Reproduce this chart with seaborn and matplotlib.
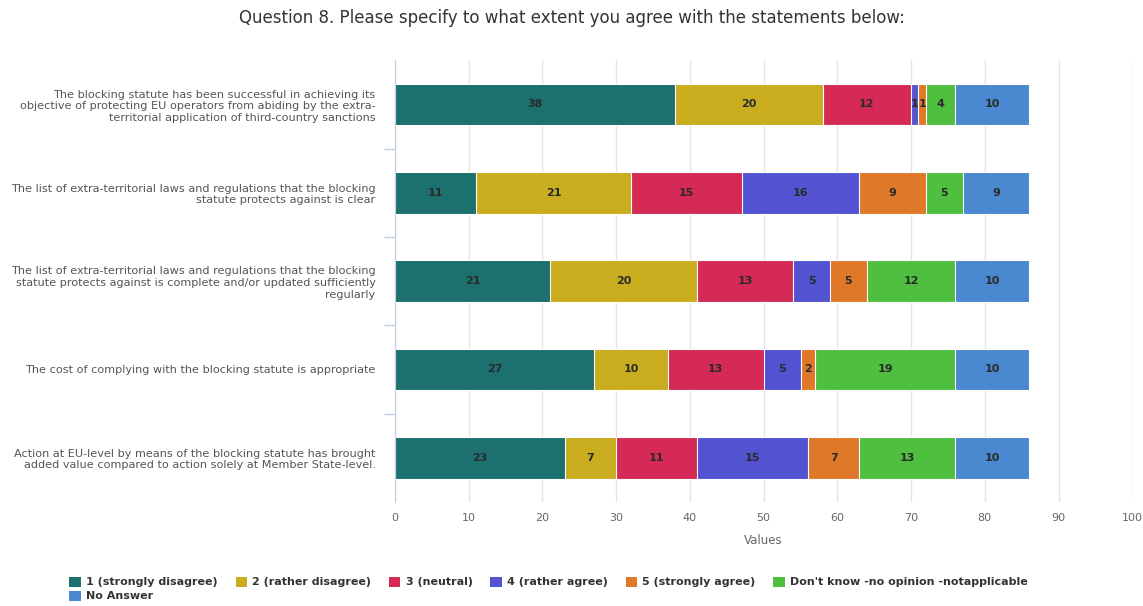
import matplotlib.pyplot as plt
import seaborn as sns
import numpy as np
import pandas as pd

# Statements (y categories)
statements = [
    "The blocking statute has been successful in achieving its\nobjective of protecting EU operators from abiding by the extra-\nterritorial application of third-country sanctions",
    "The list of extra-territorial laws and regulations that the blocking\nstatute protects against is clear",
    "The list of extra-territorial laws and regulations that the blocking\nstatute protects against is complete and/or updated sufficiently\nregularly",
    "The cost of complying with the blocking statute is appropriate",
    "Action at EU-level by means of the blocking statute has brought\nadded value compared to action solely at Member State-level.",
]

answers = ["1 (strongly disagree)", "2 (rather disagree)", "3 (neutral)", "4 (rather agree)",
           "5 (strongly agree)", "Don't know -no opinion -notapplicable", "No Answer"]

strongly_disagree = [38, 11, 21, 27, 23]
rather_disagree = [20, 21, 20, 10, 7]
neutral = [12, 15, 13, 13, 11]
rather_agree = [1, 16, 5, 5, 15]
strongly_agree = [1, 9, 5, 2, 7]
dont_know = [4, 5, 12, 19, 13]
no_answer = [10, 9, 10, 10, 10]

colors = ["#1c706e", "#c9ad1f", "#d42a55", "#5353d2", "#e0782a", "#4fbf40", "#4a88cf"]

series = [strongly_disagree, rather_disagree, neutral, rather_agree,
          strongly_agree, dont_know, no_answer]
vals = np.array(series, dtype=float)
ends = vals.cumsum(axis=0)

sns.set_theme(style="white")
plt.rcParams['font.family'] = ['DejaVu Sans']

fig = plt.figure(figsize=(11.43, 6.06), dpi=100)
ax = fig.add_axes([0.3456, 0.1716, 0.9906 - 0.3456, 0.729])

# draw cumulative bars from the last series to the first so that the stack shows
for i in range(len(series) - 1, -1, -1):
    df = pd.DataFrame({"statement": statements, "value": ends[i]})
    sns.barplot(data=df, x="value", y="statement", color=colors[i], width=0.47,
                edgecolor="white", linewidth=0.8, saturation=1, ax=ax, orient="h")

# segment labels
for i in range(len(series)):
    for j in range(len(statements)):
        v = vals[i, j]
        ax.text(ends[i, j] - v / 2, j, f"{int(v)}", ha="center", va="center",
                fontsize=8, fontweight="bold", color="#2a2a2a")

ax.set_xlim(0, 100)
ax.set_ylim(len(statements) - 0.5, -0.5)
ax.set_xticks(range(0, 101, 10))
ax.xaxis.grid(True, color="#e4e4e4", linewidth=1)
ax.yaxis.grid(False)
ax.set_axisbelow(True)
for s in ["top", "right", "bottom"]:
    ax.spines[s].set_visible(False)
ax.spines["left"].set_color("#c0d0e0")
ax.spines["left"].set_linewidth(0.8)

ax.tick_params(axis="x", length=0, labelsize=8, labelcolor="#666666", pad=8)
ax.tick_params(axis="y", length=0, labelsize=8.1, labelcolor="#555555", pad=14)
ax.set_yticks(range(len(statements)))
ax.set_yticklabels(statements)
ax.set_yticks(np.arange(0.5, len(statements) - 0.5, 1), minor=True)
ax.tick_params(axis="y", which="minor", length=8, color="#c0d0e0", left=True)

ax.set_xlabel("Values", fontsize=8.5, color="#666666", labelpad=8)
ax.set_ylabel("")

fig.suptitle("Question 8. Please specify to what extent you agree with the statements below:",
             fontsize=12, color="#333333", y=0.985)

# legend: row-major layout (6 per row, "No Answer" on second row)
handles = [plt.Rectangle((0, 0), 1, 1, facecolor=c, edgecolor="none") for c in colors]
order = [0, 6, 1, 2, 3, 4, 5]
fig.legend([handles[k] for k in order], [answers[k] for k in order],
           loc="upper left", bbox_to_anchor=(0.052, 0.065), ncol=6,
           frameon=False, handlelength=1.0, handleheight=1.0,
           handletextpad=0.5, columnspacing=1.6, labelspacing=0.3,
           prop={"weight": "bold", "size": 8}, labelcolor="#333333")

plt.savefig("out.png", dpi=100)
